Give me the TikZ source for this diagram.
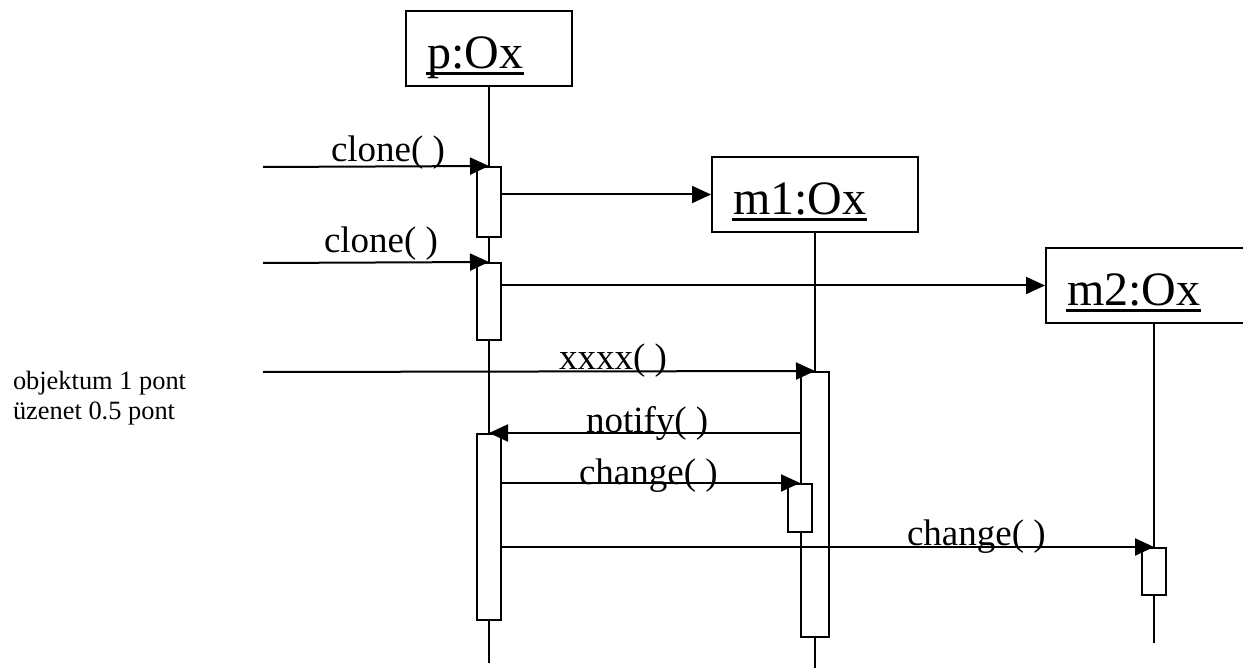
\documentclass[tikz,border=0pt]{standalone}
\usepackage{fontspec}
\setmainfont{Liberation Serif}
\usetikzlibrary{arrows.meta,calc}

\begin{document}
\begin{tikzpicture}[
    x=0.5pt, y=-0.5pt,
    line width=1pt,
    >={Triangle[length=9.5pt,width=8.5pt]},
    objbox/.style={draw,fill=white,minimum height=37.5pt,inner sep=0pt},
    objlabel/.style={anchor=base west,inner sep=0pt,font=\fontsize{24}{28}\selectfont},
    objline/.style={line width=1.5pt},
    actbar/.style={draw,fill=white,minimum width=12pt,inner sep=0pt},
    msg/.style={->},
    msglabel/.style={anchor=base west,inner sep=0pt,font=\fontsize{18.5}{22}\selectfont},
    notetext/.style={anchor=base west,inner sep=0pt,font=\fontsize{13.2}{15}\selectfont}
]

\path[use as bounding box] (0,0) rectangle (1243,668);
\clip (0,0) rectangle (1243,668);

% objects
\node[objbox,minimum width=83pt] (p) at (489,48.5) {};
\node[objbox,minimum width=103pt] (m1) at (815,194.5) {};
\node[objbox,minimum width=108pt] (m2) at (1154,285.5) {};

\node[objlabel] (plabel) at ($(p.south west)+(21,-18)$) {p:Ox};
\node[objlabel] (m1label) at ($(m1.south west)+(21,-18)$) {m1:Ox};
\node[objlabel] (m2label) at ($(m2.south west)+(21,-18)$) {m2:Ox};

\foreach \o in {plabel,m1label,m2label}
    \draw[objline] ($(\o.base west)+(0,5)$) -- ($(\o.base east)+(0,5)$);

% lifelines
\coordinate (pend) at (489,663);
\coordinate (m1end) at (815,668);
\coordinate (m2end) at (1154,643);

\draw (p.south) -- (pend);
\draw (m1.south) -- (m1end);
\draw (m2.south) -- (m2end);

% activations
\node[actbar,minimum height=35pt] (pact1) at (489,202) {};
\node[actbar,minimum height=38.5pt] (pact2) at (489,301.5) {};
\node[actbar,minimum height=93pt] (pact3) at (489,527) {};
\node[actbar,minimum width=14pt,minimum height=132.5pt] (m1act) at (815,504.5) {};
\node[actbar,minimum height=24pt] (m1sub) at (800,508) {};
\node[actbar,minimum height=23.5pt] (m2act) at (1154,571.5) {};

% messages
\coordinate (in1) at (263,167);
\coordinate (in2) at (263,263);
\coordinate (in3) at (263,372);

\draw[msg] (in1) -- (pact1.north);
\draw[msg] (pact1.east |- m1.west) -- (m1.west);
\draw[msg] (in2) -- (pact2.north);
\draw[msg] (pact2.east |- m2.west) -- (m2.west);
\draw[msg] (in3) -- (m1act.north);
\draw[msg] (m1act.west |- pact3.north) -- (pact3.north);
\draw[msg] (pact3.east |- m1sub.north) -- (m1sub.north);
\draw[msg] (pact3.east |- m2act.north) -- (m2act.north);

\node[msglabel] (lclone1) at (330,162) {clone( )};
\node[msglabel] (lclone2) at (323,253) {clone( )};
\node[msglabel] (lxxxx) at (558,370) {xxxx( )};
\node[msglabel] (lnotify) at (585,432) {notify( )};
\node[msglabel] (lchange1) at (578,484) {change( )};
\node[msglabel] (lchange2) at (906,545) {change( )};

% note
\node[notetext] (note1) at (12,390) {objektum 1 pont};
\node[notetext] (note2) at (12,420) {üzenet 0.5 pont};

\end{tikzpicture}
\end{document}
